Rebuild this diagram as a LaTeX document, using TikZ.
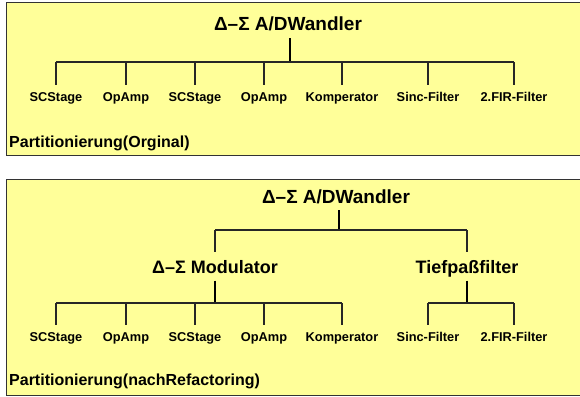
\documentclass[tikz,border=0pt]{standalone}
\usepackage{fontspec}
\setmainfont{Liberation Sans}
\usepackage{tikz}

\definecolor{panelyellow}{HTML}{FFFF99}

\begin{document}
\begin{tikzpicture}[x=1pt, y=-1pt,
	panel/.style={fill=panelyellow, draw=black!80, line width=1pt},
	head/.style={font=\bfseries\fontsize{19}{22}\selectfont, inner sep=0pt, text height=14pt, text depth=0pt},
	sub/.style={font=\bfseries\fontsize{18}{21}\selectfont, inner sep=0pt, text height=13pt, text depth=0pt},
	leaf/.style={font=\bfseries\fontsize{12.8}{14}\selectfont, inner sep=0pt, text height=9pt, text depth=3pt},
	caption/.style={font=\bfseries\fontsize{16}{18}\selectfont, anchor=west, inner sep=0pt},
	trunk/.style={draw=black, line width=1.6pt},
	branch/.style={draw=black!85, line width=1.1pt}]
	\useasboundingbox (0,0) rectangle (580,396);
	\clip (0,0) rectangle (580,396);

	% Originale Partitionierung
	\draw[panel] (6,3) rectangle (590,155);
	\node[head] (w1) at (288,24) {Δ–Σ A/DWandler};
	\coordinate (b1) at (290,62);
	\foreach \x/\t/\n in {56/SCStage/a, 126/OpAmp/b, 195/SCStage/c, 264/OpAmp/d, 342/Komperator/e, 428/Sinc-Filter/f, 514/2.FIR-Filter/g}
		\node[leaf] (o\n) at (\x,98) {\t};
	\draw[trunk, shorten <=7pt] (w1.south -| b1) -- (b1);
	\draw[branch] (oa |- b1) -- (og |- b1);
	\foreach \n in {a,b,c,d,e,f,g}
		\draw[branch, shorten >=7pt] (o\n |- b1) -- (o\n.north);
	\node[caption] (p1) at (9,143) {Partitionierung(Orginal)};

	% nach Refactoring
	\draw[panel] (6,179) rectangle (590,395);
	\node[head] (w2) at (336,196) {Δ–Σ A/DWandler};
	\coordinate (b2) at (339,230);
	\node[sub] (mod) at (215,267) {Δ–Σ Modulator};
	\node[sub] (tp) at (467,267) {Tiefpaßfilter};
	\draw[trunk, shorten <=7pt] (w2.south -| b2) -- (b2);
	\draw[branch] (mod |- b2) -- (tp |- b2);
	\draw[branch, shorten >=8pt] (mod |- b2) -- (mod.north);
	\draw[branch, shorten >=8pt] (tp |- b2) -- (tp.north);
	\coordinate (b3) at (215,303);
	\coordinate (b4) at (467,303);
	\foreach \x/\t/\n in {56/SCStage/a, 126/OpAmp/b, 195/SCStage/c, 264/OpAmp/d, 342/Komperator/e}
		\node[leaf] (m\n) at (\x,338) {\t};
	\foreach \x/\t/\n in {428/Sinc-Filter/f, 514/2.FIR-Filter/g}
		\node[leaf] (t\n) at (\x,338) {\t};
	\draw[trunk, shorten <=7pt] (mod.south) -- (b3);
	\draw[trunk, shorten <=7pt] (tp.south) -- (b4);
	\draw[branch] (ma |- b3) -- (me |- b3);
	\draw[branch] (tf |- b4) -- (tg |- b4);
	\foreach \n in {a,b,c,d,e}
		\draw[branch, shorten >=7pt] (m\n |- b3) -- (m\n.north);
	\foreach \n in {f,g}
		\draw[branch, shorten >=7pt] (t\n |- b4) -- (t\n.north);
	\node[caption] (p2) at (9,381) {Partitionierung(nachRefactoring)};
\end{tikzpicture}
\end{document}
